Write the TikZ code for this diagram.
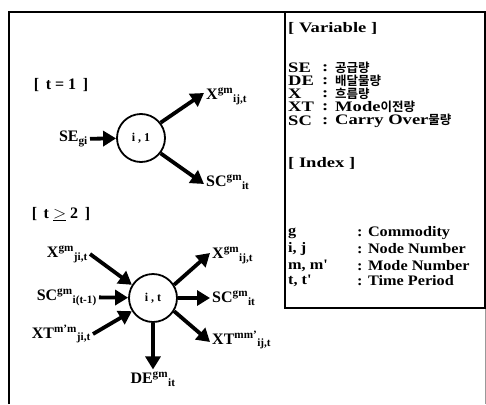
\documentclass[tikz,border=0pt]{standalone}
\usepackage{fontspec}
\setmainfont{Liberation Serif}
\newfontfamily\widefont{Liberation Serif}[FakeStretch=1.28]
\newfontfamily\idxfont{Liberation Serif}[FakeStretch=1.12]
\newfontfamily\krfont{Noto Sans CJK KR}[BoldFont={Noto Sans CJK KR Bold}]
\usetikzlibrary{arrows.meta,positioning}
\tikzset{
  frameLine/.style={line width=1.8pt, draw=black},
  legendFrame/.style={line width=1.3pt, draw=black},
  flowNode/.style={
    draw, circle, line width=1.8pt,
    minimum size=48pt, inner sep=0pt,
    font=\bfseries\fontsize{12}{14}\selectfont
  },
  flowArrow/.style={-{Triangle[length=13pt,width=15pt]}, line width=3.8pt},
  flowLabel/.style={font=\bfseries\fontsize{16}{18}\selectfont, inner sep=2pt},
  caseTitle/.style={font=\bfseries\fontsize{16}{18}\selectfont, inner sep=0pt},
  legendText/.style={anchor=west, inner sep=0pt,
    font=\widefont\bfseries\fontsize{14.5}{14}\selectfont},
  indexText/.style={legendText, font=\idxfont\bfseries\fontsize{14.5}{14}\selectfont},
  legendKr/.style={legendText, font=\krfont\bfseries\fontsize{12.5}{12}\selectfont}
}
% variable with superscript and subscript side by side
\newcommand{\flowvar}[3]{#1\textsuperscript{#2}\textsubscript{#3}}
\newcommand{\kr}[1]{{\krfont\bfseries\fontsize{12.5}{12}\selectfont #1}}

\begin{document}
\begin{tikzpicture}[x=1pt, y=-1pt]
  \useasboundingbox (0,0) rectangle (486,404);

  % frame, open at the bottom
  \draw[frameLine] (9,404) -- (9,12) -- (485,12);
  \draw[line width=0.6pt, black!40] (485,12) -- (485,404);
  \draw[legendFrame] (285,12) rectangle (485,308);

  % first period
  \node[caseTitle] (title1) at (61,85) {[\, t = 1\, ]};
  \node[flowNode] (c1) at (141,138) {i , 1};
  \node[flowLabel, anchor=east] (se) at (90,139) {SE\textsubscript{gi}};
  \node[flowLabel, anchor=west] (x1) at (204,96) {\flowvar{X}{gm}{ij,t}};
  \node[flowLabel, anchor=west] (sc1) at (204,182) {\flowvar{SC}{gm}{it}};

  \draw[flowArrow] (se) -- (c1);
  \draw[flowArrow] (c1.38) -- ([yshift=3pt]x1.west);
  \draw[flowArrow] (c1.-38) -- ([yshift=-2pt]sc1.west);

  % later periods
  \node[caseTitle] (title2) at (61,214) {[\, t $\underline{>}$ 2\, ]};
  \node[flowNode] (c2) at (153,298) {i , t};
  \node[flowLabel, anchor=east] (xin) at (90,254) {\flowvar{X}{gm}{ji,t}};
  \node[flowLabel, anchor=east] (scin) at (99,297) {\flowvar{SC}{gm}{i(t-1)}};
  \node[flowLabel, anchor=east] (xtin) at (93,334) {\flowvar{XT}{m'm}{ji,t}};
  \node[flowLabel, anchor=west] (xout) at (210,255) {\flowvar{X}{gm}{ij,t}};
  \node[flowLabel, anchor=west] (scout) at (210,298) {\flowvar{SC}{gm}{it}};
  \node[flowLabel, anchor=west] (xtout) at (210,340) {\flowvar{XT}{mm'}{ij,t}};
  \node[flowLabel] (deout) at (153,379) {\flowvar{DE}{gm}{it}};

  \draw[flowArrow] (xin.east) -- (c2.148);
  \draw[flowArrow] (scin) -- (c2);
  \draw[flowArrow] (xtin.east) -- (c2.212);
  \draw[flowArrow] (c2.32) -- ([yshift=2pt]xout.west);
  \draw[flowArrow] (c2) -- (scout);
  \draw[flowArrow] (c2.-32) -- ([yshift=-2pt]xtout.west);
  \draw[flowArrow] (c2) -- (deout);

  % legend
  \node[legendText] (varHead) at (288,28) {[ Variable ]};
  \node[legendText] (vSE) at (288,68) {SE};
  \node[legendText] (vDE) at (288,81) {DE};
  \node[legendText] (vX)  at (288,94) {X};
  \node[legendText] (vXT) at (288,107) {XT};
  \node[legendText] (vSC) at (288,121) {SC};
  \node[legendText] (cSE) at (322,68) {:};
  \node[legendText] (cDE) at (322,81) {:};
  \node[legendText] (cX)  at (322,94) {:};
  \node[legendText] (cXT) at (322,107) {:};
  \node[legendText] (cSC) at (322,121) {:};
  \node[legendKr] (dSE) at (335,68) {공급량};
  \node[legendKr] (dDE) at (335,81) {배달물량};
  \node[legendKr] (dX)  at (335,94) {흐름량};
  \node[legendText] (dXT) at (335,107) {Mode\kr{이전량}};
  \node[legendText] (dSC) at (335,121) {Carry Over\kr{물량}};

  \node[legendText] (idxHead) at (288,163) {[ Index ]};
  \node[indexText] (iG)  at (288,233) {g};
  \node[indexText] (iIJ) at (288,249) {i, j};
  \node[indexText] (iM)  at (288,266) {m, m'};
  \node[indexText] (iT)  at (288,281) {t, t'};
  \node[indexText] (jG)  at (357,233) {: Commodity};
  \node[indexText] (jIJ) at (357,249) {: Node Number};
  \node[indexText] (jM)  at (357,266) {: Mode Number};
  \node[indexText] (jT)  at (357,281) {: Time Period};
\end{tikzpicture}
\end{document}
